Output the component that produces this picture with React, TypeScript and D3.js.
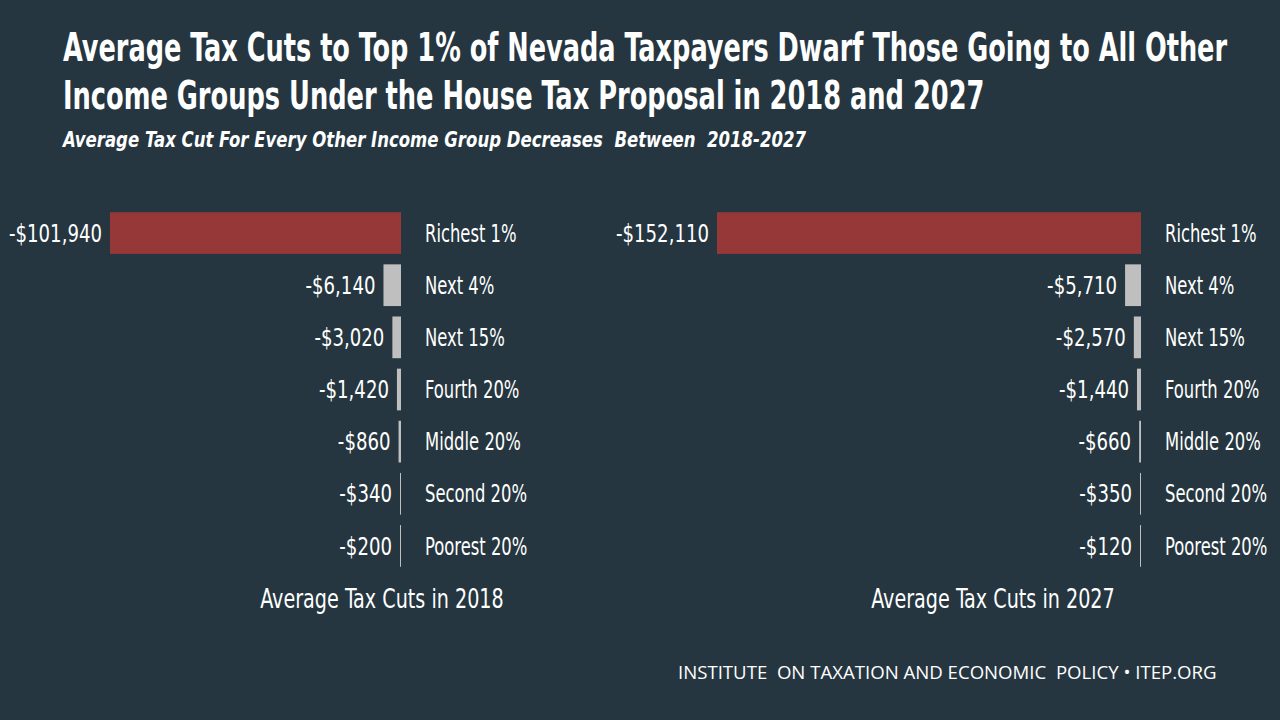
import React from "react";
import * as d3 from "d3";

const groups = ["Richest 1%", "Next 4%", "Next 15%", "Fourth 20%", "Middle 20%", "Second 20%", "Poorest 20%"];
const cuts2018 = [101940, 6140, 3020, 1420, 860, 340, 200];
const cuts2027 = [152110, 5710, 2570, 1440, 660, 350, 120];
const panelTitles = ["Average Tax Cuts in 2018", "Average Tax Cuts in 2027"];

const W = 1280;
const H = 720;
const BG = "#253640";
const RED = "#963838";
const GRAY = "#bfbfbf";
const COND = "'DejaVu Sans Condensed', 'DejaVu Sans', sans-serif";

const fmt = (v: number) => "-$" + d3.format(",")(v);

// narrow text: squeeze horizontally around its anchor point
function Narrow({ x, y, sx = 0.8, children, ...rest }) {
  return (
    <g transform={`translate(${x},${y}) scale(${sx},1)`}>
      <text x={0} y={0} fill="#fff" fontFamily={COND} {...rest}>
        {children}
      </text>
    </g>
  );
}

// squeeze a text line so it fills a given width
function FitText({ x, y, width, children, ...rest }) {
  const ref = React.useRef(null);
  const [sx, setSx] = React.useState(1);
  React.useLayoutEffect(() => {
    const w = ref.current.getBBox().width;
    if (w > 0) setSx(width / w);
  }, [width]);
  return (
    <g transform={`translate(${x},${y}) scale(${sx},1)`}>
      <text ref={ref} x={0} y={0} fill="#fff" fontFamily={COND} style={{ whiteSpace: "pre" }} {...rest}>
        {children}
      </text>
    </g>
  );
}

function Panel({ values, zeroX, width, title, titleX }) {
  const x = d3.scaleLinear().domain([0, d3.max(values)]).range([0, width]);
  const y = d3.scaleBand().domain(groups).range([207, 572]).paddingInner(0.2).paddingOuter(0.1);
  return (
    <g>
      {groups.map((g, i) => {
        const w = Math.max(x(values[i]), 1);
        const yy = y(g);
        const cy = yy + y.bandwidth() / 2;
        return (
          <g key={g}>
            <rect x={zeroX - w} y={yy} width={w} height={y.bandwidth()} fill={i === 0 ? RED : GRAY} />
            <Narrow x={zeroX - w - 8} y={cy} sx={0.84} dy="0.36em" textAnchor="end" fontSize={24}>
              {fmt(values[i])}
            </Narrow>
            <Narrow x={zeroX + 24} y={cy} sx={0.76} dy="0.36em" fontSize={24}>
              {g}
            </Narrow>
          </g>
        );
      })}
      <Narrow x={titleX} y={608} sx={0.82} textAnchor="middle" fontSize={26}>
        {title}
      </Narrow>
    </g>
  );
}

export default function App() {
  return (
    <svg width={W} height={H} style={{ position: "absolute", left: 0, top: 0, display: "block" }}>
      <rect width={W} height={H} fill={BG} />
      <FitText x={63} y={61} width={1165} fontWeight="bold" fontSize={39}>
        Average Tax Cuts to Top 1% of Nevada Taxpayers Dwarf Those Going to All Other
      </FitText>
      <FitText x={63} y={109} width={922} fontWeight="bold" fontSize={39}>
        Income Groups Under the House Tax Proposal in 2018 and 2027
      </FitText>
      <FitText x={63} y={147} width={745} fontWeight="bold" fontStyle="italic" fontSize={22}>
        {"Average Tax Cut For Every Other Income Group Decreases  Between  2018-2027"}
      </FitText>
      <Panel values={cuts2018} zeroX={401} width={291} title={panelTitles[0]} titleX={382} />
      <Panel values={cuts2027} zeroX={1141} width={424} title={panelTitles[1]} titleX={993} />
      <FitText x={678} y={679} width={539} fontFamily="'Open Sans', sans-serif" fontSize={18}>
        {"INSTITUTE  ON TAXATION AND ECONOMIC  POLICY • ITEP.ORG"}
      </FitText>
    </svg>
  );
}
